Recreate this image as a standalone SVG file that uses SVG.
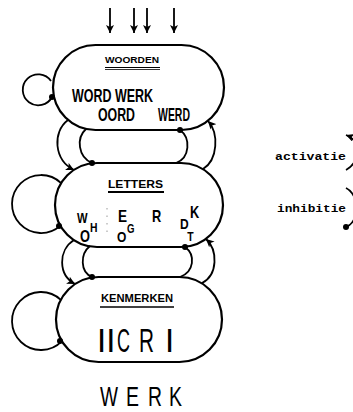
<svg xmlns="http://www.w3.org/2000/svg" width="353" height="412" viewBox="0 0 353 412">
<style>
.pill{fill:#fff;stroke:#000;stroke-width:2.2}
.c{fill:none;stroke:#000;stroke-width:1.8}
.ar{marker-end:url(#arrow)}
.dot{fill:#000}
.t{font-family:"Liberation Sans",Arial,sans-serif;font-weight:bold;fill:#000}
.hd{font-family:"Liberation Sans",Arial,sans-serif;font-weight:bold;font-size:11px;fill:#000}
.ul{stroke:#000;stroke-width:1.6}
.thin{font-family:"Liberation Sans",Arial,sans-serif;font-weight:normal;fill:#000}
.mono{font-family:"Liberation Mono","Courier New",monospace;font-weight:bold;font-size:10px;fill:#000}
</style>
<defs>
<marker id="arrow" markerUnits="userSpaceOnUse" markerWidth="9" markerHeight="8" refX="8" refY="4" orient="auto">
<path d="M0,0 L8,4 L0,8 L2,4 z" fill="#000"/>
</marker>
</defs>

<g id="woorden">
<rect class="pill" x="53" y="45" width="171" height="85" rx="42.5" ry="42.5"/>
<text class="hd" x="105" y="63" textLength="54" lengthAdjust="spacingAndGlyphs" style="font-size:9px">WOORDEN</text>
<line class="ul" x1="105" y1="67.5" x2="160" y2="67.5" style="stroke-width:1"/>
<line class="ul" x1="105" y1="69.5" x2="160" y2="69.5" style="stroke-width:0.8"/>
<text class="t" x="72" y="102" font-size="19" textLength="81" lengthAdjust="spacingAndGlyphs">WORD WERK</text>
<text class="t" x="98" y="121" font-size="19" textLength="37" lengthAdjust="spacingAndGlyphs">OORD</text>
<text class="t" x="158" y="121" font-size="19" textLength="32" lengthAdjust="spacingAndGlyphs">WERD</text>
</g>

<g id="letters">
<rect class="pill" x="55" y="163" width="168" height="84" rx="42" ry="42"/>
<text class="hd" x="108" y="188" textLength="55" lengthAdjust="spacingAndGlyphs">LETTERS</text>
<line class="ul" x1="108" y1="192" x2="164" y2="192" style="stroke-width:2"/>
<g class="t" transform="scale(0.8,1)">
<text><tspan x="96.25" y="223" font-size="14">W</tspan><tspan x="112.5" y="232" font-size="13">H</tspan><tspan x="100" y="242" font-size="16">O</tspan></text>
<text><tspan x="147.5" y="222" font-size="17">E</tspan><tspan x="146.25" y="242" font-size="15">O</tspan><tspan x="158.75" y="233" font-size="12">G</tspan></text>
<text x="190" y="222" font-size="16">R</text>
<text><tspan x="225" y="229" font-size="15">D</tspan><tspan x="237.5" y="218" font-size="16">K</tspan><tspan x="234" y="241" font-size="13">T</tspan></text>
</g>
<line x1="107" y1="208" x2="107" y2="236" stroke="#999" stroke-width="1" stroke-dasharray="1.5,6"/>
</g>

<g id="kenmerken">
<rect class="pill" x="56" y="277" width="166" height="85" rx="42.5" ry="42.5"/>
<text class="hd" x="101" y="302" textLength="72" lengthAdjust="spacingAndGlyphs" style="font-size:10px">KENMERKEN</text>
<line class="ul" x1="100" y1="307" x2="174" y2="307" style="stroke-width:1.6"/>
<g class="thin" font-size="33">
<text x="97" y="352">II</text>
<text x="117" y="352" textLength="13" lengthAdjust="spacingAndGlyphs">C</text>
<text x="139" y="352" textLength="15" lengthAdjust="spacingAndGlyphs">R</text>
<text x="165" y="352">I</text>
</g>
</g>

<g id="output" class="thin" font-size="28">
<text x="100" y="406" textLength="18" lengthAdjust="spacingAndGlyphs">W</text>
<text x="126" y="406" textLength="13" lengthAdjust="spacingAndGlyphs">E</text>
<text x="148" y="406" textLength="14" lengthAdjust="spacingAndGlyphs">R</text>
<text x="169" y="406" textLength="13" lengthAdjust="spacingAndGlyphs">K</text>
</g>

<g id="legend">
<text class="mono" x="275" y="160" textLength="71" lengthAdjust="spacingAndGlyphs">activatie</text>
<text class="mono" x="277" y="212" textLength="69" lengthAdjust="spacingAndGlyphs">inhibitie</text>
<path class="c ar" d="M346,170 C360,163 362,141 346,135"/>
<path class="c" d="M346,188 C360,195 360,222 346,227"/>
<circle class="dot" cx="346" cy="227" r="3"/>
</g>

<g id="connectors">
<path class="c ar" d="M110,8 L110,33"/>
<path class="c ar" d="M134,8 L134,33"/>
<path class="c ar" d="M147,8 L147,33"/>
<path class="c ar" d="M174,8 L174,33"/>

<path class="c" d="M51,81 A15.5,15.5 0 1 0 52,97"/>
<circle class="dot" cx="52" cy="97" r="3"/>
<path class="c" d="M61.1,183.1 A29,29 0 1 0 60.4,225.6"/>
<circle class="dot" cx="59" cy="226" r="3"/>
<path class="c" d="M60.8,299.8 A29,29 0 1 0 61.9,341.1"/>
<circle class="dot" cx="60" cy="341" r="3"/>

<path class="c ar" d="M68,120 C52,132 54,160 74,170"/>
<path class="c" d="M86,129 C76,138 78,157 92,163"/>
<circle class="dot" cx="92" cy="163" r="3"/>
<path class="c" d="M176,163 C190,158 191,138 180,130"/>
<circle class="dot" cx="180" cy="130" r="3"/>
<path class="c ar" d="M203,169 C218,160 219,133 208,121"/>

<path class="c ar" d="M74,240 C58,250 58,275 75,284"/>
<path class="c" d="M90,246 C80,254 80,272 92,277"/>
<circle class="dot" cx="92" cy="277" r="3"/>
<path class="c" d="M180,277 C194,272 196,255 185,247"/>
<circle class="dot" cx="185" cy="247" r="3"/>
<path class="c ar" d="M202,283 C218,275 218,250 206,239"/>
</g>
</svg>
